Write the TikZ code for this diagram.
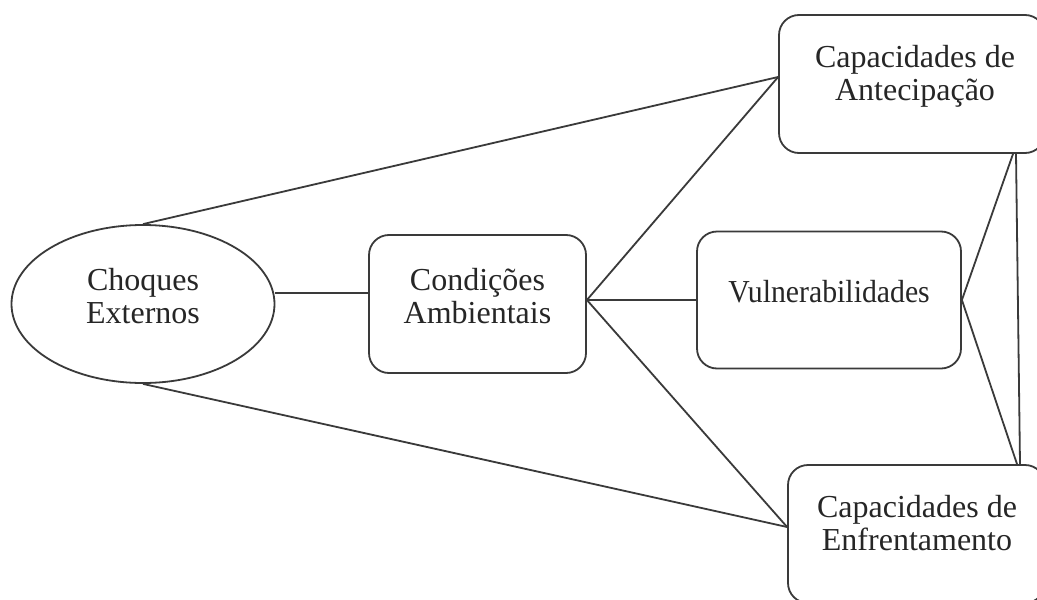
\documentclass[tikz,border=0pt]{standalone}
\usepackage{graphicx}
\usepackage{fontspec}
\setmainfont{Liberation Serif}
\usetikzlibrary{shapes.geometric}
\definecolor{linec}{HTML}{3A3A3A}
\definecolor{txtc}{HTML}{262626}
\begin{document}
\begin{tikzpicture}[x=0.5pt,y=-0.5pt,
  box/.style={draw=linec, line width=0.9pt, rounded corners=10pt, inner sep=0pt},
  ell/.style={draw=linec, line width=0.9pt, ellipse, inner sep=0pt, minimum width=131.5pt, minimum height=79pt},
  lbl/.style={align=center, font=\fontsize{16}{16.5}\selectfont, text=txtc, inner sep=0pt},
  conn/.style={draw=linec, line width=0.9pt}]
\useasboundingbox (0,0) rectangle (1037,599);
\clip (0,0) rectangle (1037,599);
\fill[white] (0,0) rectangle (1037,599);
% shapes
\node[ell] (ce) at (143,304) {};
\node[box, minimum width=108.5pt, minimum height=69pt] (ca) at (477.5,304) {};
\node[box, minimum width=132pt, minimum height=68.5pt] (vu) at (829,300) {};
\node[box, minimum width=133pt, minimum height=69pt] (ta) at (912,84) {};
\node[box, minimum width=128.5pt, minimum height=69pt] (tb) at (916.5,534) {};
% labels
\node[lbl] (tce) at (143,296) {Choques\\Externos};
\node[lbl] (tca) at (477.5,296.5) {Condições\\Ambientais};
\node[lbl] (tvu) at (829,292) {\scalebox{0.93}[1]{Vulnerabilidades}};
\node[lbl] (tta) at (915,76.5) {Capacidades de\\Antecipação};
\node[lbl] (ttb) at (917,523.5) {Capacidades de\\Enfrentamento};
% connectors
\draw[conn] (ce.north) -- ([yshift=3.5pt]ta.west);
\draw[conn] (ce.south) -- ([yshift=3.5pt]tb.west);
\draw[conn] ([yshift=5.5pt]ce.east) -- ([yshift=5.5pt]ca.west);
\draw[conn] ([yshift=2pt]ca.east) -- (vu.west);
\draw[conn] ([yshift=2pt]ca.east) -- ([yshift=3.5pt]ta.west);
\draw[conn] ([yshift=2pt]ca.east) -- ([yshift=3.5pt]tb.west);
\draw[conn] (vu.east) -- ([xshift=50.5pt]ta.south);
\draw[conn] (vu.east) -- ([xshift=50.25pt]tb.north);
\draw[conn] ([xshift=52pt]ta.south) -- ([xshift=51.75pt]tb.north);
\end{tikzpicture}
\end{document}
